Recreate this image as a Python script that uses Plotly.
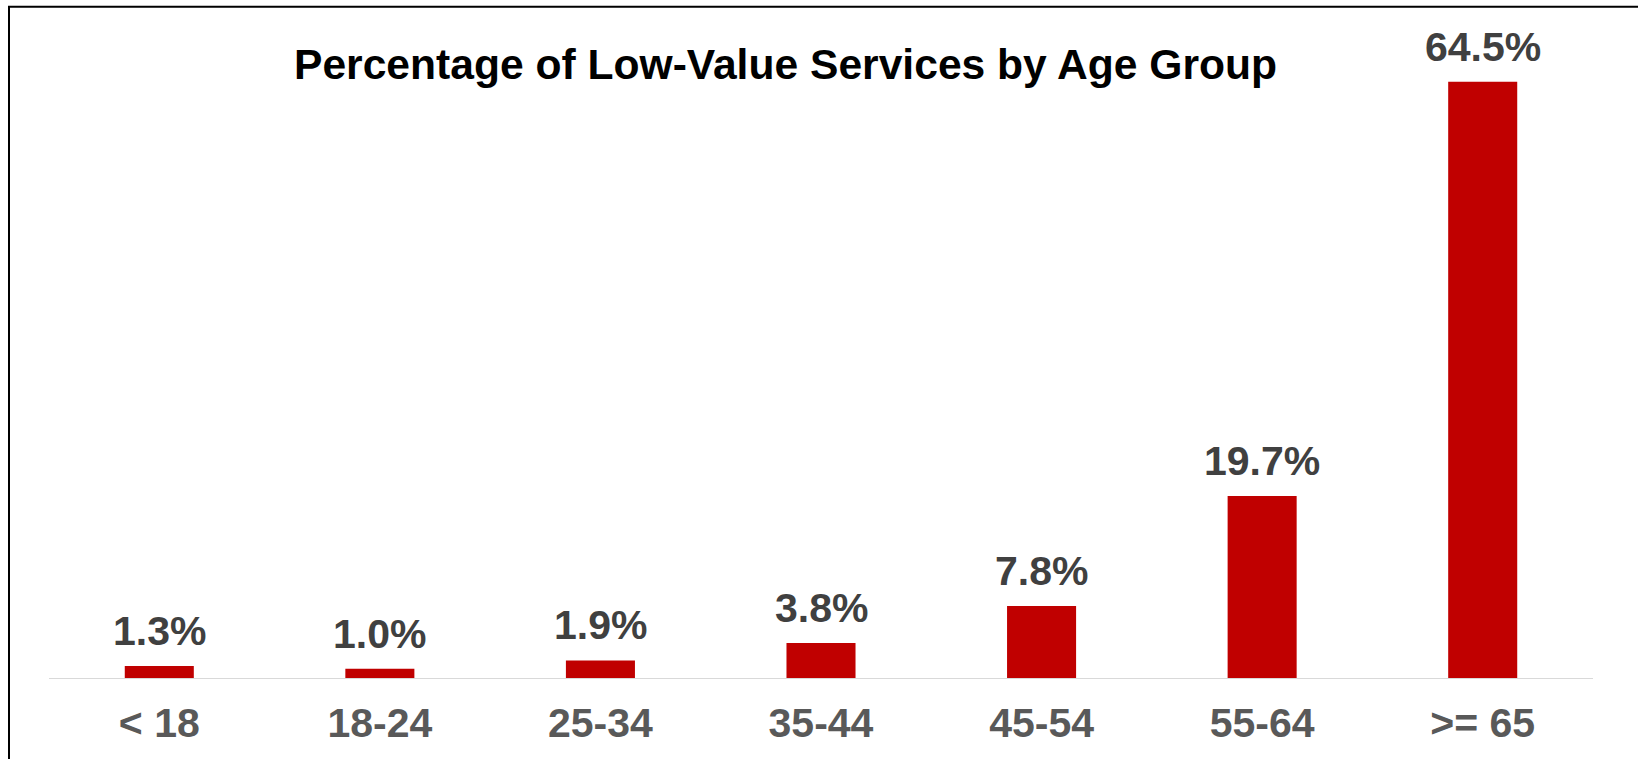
import plotly.graph_objects as go

categories = ["< 18", "18-24", "25-34", "35-44", "45-54", "55-64", ">= 65"]
values = [1.3, 1.0, 1.9, 3.8, 7.8, 19.7, 64.5]
labels = [f"{v:.1f}%" for v in values]
title_text = "Percentage of Low-Value Services by Age Group"

W, H = 1638, 759
plot_left, plot_right, plot_bottom = 49, 1593, 678
y_max = 70
px_per_unit = 9.24
plot_top = plot_bottom - y_max * px_per_unit
pw = plot_right - plot_left
ph = plot_bottom - plot_top

FONT = "Liberation Sans, Arial, sans-serif"

fig = go.Figure(
    go.Bar(
        x=categories,
        y=values,
        cliponaxis=False,
        marker=dict(color="#C00000", line=dict(width=0)),
        hoverinfo="skip",
    )
)

for cat, val, lab in zip(categories, values, labels):
    fig.add_annotation(
        x=cat, y=val, text=lab, showarrow=False,
        xanchor="center", yanchor="bottom", yshift=10,
        font=dict(family=FONT, size=41, color="#404040", weight="bold"),
    )

# frame (cropped at right and bottom)
fx0 = (9 - plot_left) / pw
fy1 = (plot_bottom - 7) / ph
fig.add_shape(type="rect", xref="paper", yref="paper",
              x0=fx0, x1=1.2, y0=-0.5, y1=fy1,
              line=dict(color="black", width=2), layer="below")

fig.add_annotation(
    text="<b>" + title_text + "</b>",
    xref="paper", yref="paper",
    x=(785 - plot_left) / pw, y=(plot_bottom - 64) / ph,
    xanchor="center", yanchor="middle", showarrow=False,
    font=dict(family=FONT, size=42.6, color="black"),
)

fig.update_layout(
    width=W, height=H,
    margin=dict(l=plot_left, r=W - plot_right, t=plot_top, b=H - plot_bottom, autoexpand=False),
    paper_bgcolor="white", plot_bgcolor="white",
    bargap=0.687,
    showlegend=False,
    hovermode=False,
    font=dict(family=FONT),
)
fig.update_xaxes(
    showline=True, linecolor="#d9d9d9", linewidth=1,
    showgrid=False, ticks="",
    tickfont=dict(family=FONT, size=41, color="#595959", weight="bold"),
    ticklabelstandoff=9,
)
fig.update_yaxes(range=[0, y_max], visible=False, showgrid=False, zeroline=False)

fig.write_html(
    "out.html",
    config={"displayModeBar": False, "staticPlot": True},
    post_script="document.body.style.margin='0';document.body.style.overflow='hidden';",
)
